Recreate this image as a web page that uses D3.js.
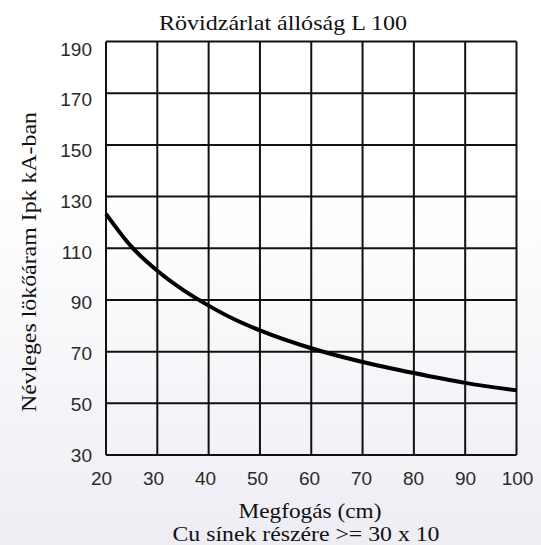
<!DOCTYPE html>
<html lang="hu">
<head>
    <meta charset="UTF-8">
    <title>Rövidzárlat állóság L 100</title>
    <script src="https://d3js.org/d3.v7.min.js"></script>
    <style>
        body { margin:0; padding:0; }
        .tick text { font-family: "Liberation Sans", Arial, sans-serif; font-size:19px; fill:#2a2a2a; }
        .serif { font-family: "Liberation Serif", "Times New Roman", serif; font-size:21px; fill:#111; }
    </style>
</head>
<body>
<script>

    // chart data
    var distance = [20, 25, 30, 35, 40, 45, 50, 60, 70, 80, 90, 100];   // Megfogás (cm)
    var current  = [123.3, 110.5, 101.3, 93.9, 87.8, 82.5, 78.2, 71.3, 66, 61.7, 57.9, 55];  // Ipk kA
    var xTicks = [20, 30, 40, 50, 60, 70, 80, 90, 100];
    var yTicks = [30, 50, 70, 90, 110, 130, 150, 170, 190];

    var width = 541;
    var height = 545;

    var svg = d3.select("body")
        .append("svg")
        .attr("width", width)
        .attr("height", height);

    // light background fading to lavender at the bottom
    var grad = svg.append("defs").append("linearGradient")
        .attr("id", "bg")
        .attr("x1", 0).attr("y1", 0).attr("x2", 0).attr("y2", 1);
    grad.append("stop").attr("offset", "0.35").attr("stop-color", "#ffffff");
    grad.append("stop").attr("offset", "1").attr("stop-color", "#eeedf4");
    svg.append("rect").attr("width", width).attr("height", height).attr("fill", "url(#bg)");

    var x = d3.scaleLinear().domain([20, 100]).range([106, 516.5]);
    var y = d3.scaleLinear().domain([30, 190]).range([455, 41.5]);

    // labels sit a little off the grid lines in the original
    var xLab = d3.scaleLinear().domain([20, 100]).range([101, 517]);
    var yLab = d3.scaleLinear().domain([30, 190]).range([455, 49]);

    // grid
    svg.append("g").selectAll("line")
        .data(xTicks)
        .enter().append("line")
        .attr("x1", function(d) { return x(d); })
        .attr("x2", function(d) { return x(d); })
        .attr("y1", y(30)).attr("y2", y(190))
        .attr("stroke", "#111").attr("stroke-width", 2);

    svg.append("g").selectAll("line")
        .data(yTicks)
        .enter().append("line")
        .attr("y1", function(d) { return y(d); })
        .attr("y2", function(d) { return y(d); })
        .attr("x1", x(20)).attr("x2", x(100))
        .attr("stroke", "#111").attr("stroke-width", 2);

    // axes (labels only)
    var xAxis = svg.append("g")
        .attr("transform", "translate(0," + 471 + ")")
        .call(d3.axisBottom(xLab).tickValues(xTicks).tickSize(0).tickPadding(0));
    xAxis.select(".domain").remove();
    xAxis.selectAll("text").attr("dy", "0.71em");

    var yAxis = svg.append("g")
        .attr("transform", "translate(" + 92 + ",0)")
        .call(d3.axisLeft(yLab).tickValues(yTicks).tickSize(0).tickPadding(0));
    yAxis.select(".domain").remove();

    // curve
    var line = d3.line()
        .x(function(d, i) { return x(distance[i]); })
        .y(function(d) { return y(d); })
        .curve(d3.curveMonotoneX);

    svg.append("path")
        .datum(current)
        .attr("d", line)
        .attr("fill", "none")
        .attr("stroke", "#000")
        .attr("stroke-width", 4);

    // texts, stretched to the widths of the original lettering
    svg.append("text").attr("class", "serif")
        .attr("x", 283).attr("y", 30)
        .attr("text-anchor", "middle")
        .attr("textLength", 248).attr("lengthAdjust", "spacingAndGlyphs")
        .text("Rövidzárlat állóság L 100");

    svg.append("text").attr("class", "serif")
        .attr("transform", "translate(36,262) rotate(-90)")
        .attr("text-anchor", "middle")
        .attr("textLength", 300).attr("lengthAdjust", "spacingAndGlyphs")
        .text("Névleges lökőáram Ipk kA-ban");

    svg.append("text").attr("class", "serif")
        .attr("x", 310).attr("y", 518)
        .attr("text-anchor", "middle")
        .attr("textLength", 143).attr("lengthAdjust", "spacingAndGlyphs")
        .text("Megfogás (cm)");

    svg.append("text").attr("class", "serif")
        .attr("x", 306).attr("y", 541)
        .attr("text-anchor", "middle")
        .attr("textLength", 267).attr("lengthAdjust", "spacingAndGlyphs")
        .text("Cu sínek részére >= 30 x 10");

</script>
</body>
</html>
